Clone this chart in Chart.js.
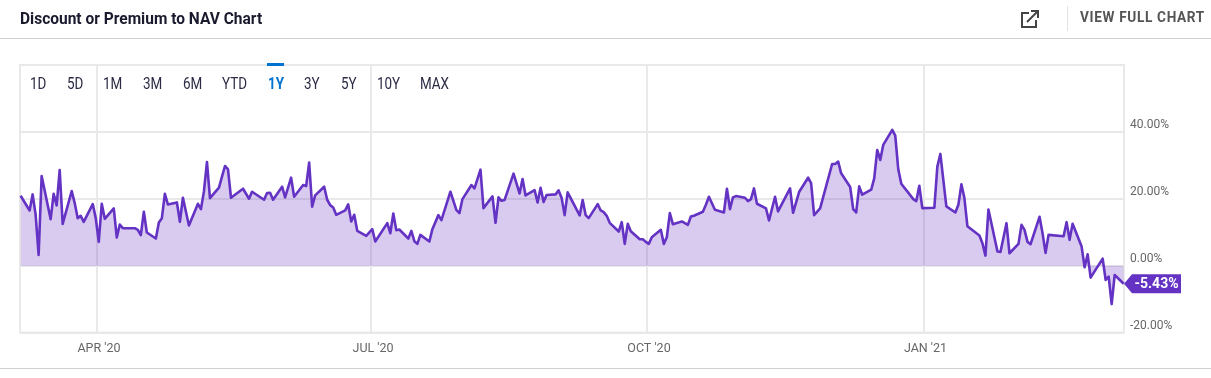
<!DOCTYPE html>
<html>
<head>
<meta charset="utf-8">
<script src="https://cdn.jsdelivr.net/npm/chart.js@4"></script>
<style>
    html, body { margin: 0; background: #fff; overflow: hidden; }
    #wrap { position: relative; width: 1211px; height: 378px; font-family: Roboto, sans-serif; }
    #wrap canvas { position: absolute; left: 0; top: 0; }
    .txt { position: absolute; white-space: nowrap; transform-origin: left center; }
    .rng { top: 75px; font-size: 16px; line-height: 18px; color: #2b2b45; transform: scaleX(.84); }
</style>
</head>
<body>
<div id="wrap">
    <canvas id="navChart" width="1211" height="378"></canvas>
    <div class="txt" style="left:20px;top:9px;font-size:16.5px;line-height:20px;font-weight:700;color:#1a1a2e;transform:scaleX(.94)">Discount or Premium to NAV Chart</div>
    <svg style="position:absolute;left:1020px;top:9px" width="20" height="20" viewBox="0 0 20 20" fill="none" stroke="#444" stroke-width="2">
        <path d="M9 4H2v14h14v-7"/><path d="M7 13L17 3"/><path d="M11 2h7v7"/>
    </svg>
    <div style="position:absolute;left:1067px;top:6px;width:1px;height:25px;background:#e2e2e2"></div>
    <div class="txt" style="left:1080px;top:9px;font-size:14.5px;line-height:18px;font-weight:700;color:#555;letter-spacing:.7px;transform:scaleX(.94)">VIEW FULL CHART</div>
    <div style="position:absolute;left:0;top:38px;width:1211px;height:1px;background:#cfcfcf"></div>
    <div style="position:absolute;left:0;top:368px;width:1211px;height:1px;background:#cfcfcf"></div>
    <div style="position:absolute;left:267px;top:63px;width:17px;height:3px;background:#0073d1"></div>
    <div id="ranges"></div>
</div>
<script>
// range buttons above the plot
const rangeLabels = ['1D', '5D', '1M', '3M', '6M', 'YTD', '1Y', '3Y', '5Y', '10Y', 'MAX'];
const rangeLefts = [30, 67, 103, 143, 183, 222, 268, 304, 341, 377, 420];
const activeRange = '1Y';

// calendar days since 6 Mar 2020
const days = [
    0, 3, 4, 5, 6, 7, 10, 11, 12, 13, 14, 17, 18, 19, 20, 21, 24, 25, 26, 27, 28,
    31, 32, 33, 34, 38, 39, 40, 41, 42, 45, 46, 47, 48, 49, 52, 53, 54, 56, 59, 60, 61, 62, 63,
    66, 67, 68, 69, 70, 74, 76, 77, 81, 82, 83, 84, 87, 88, 90, 91, 94, 95, 96, 97, 98,
    101, 102, 103, 104, 105, 108, 109, 110, 111, 112, 115, 117, 118, 122, 123, 124, 125, 126,
    129, 130, 131, 132, 133, 136, 137, 139, 140, 143, 145, 146, 147, 150, 151, 153, 154,
    157, 158, 159, 160, 161, 164, 166, 167, 168, 171, 172, 173, 174, 175, 178, 179, 180, 181, 182,
    186, 187, 188, 189, 192, 193, 194, 195, 196, 199, 200, 201, 202, 203, 206, 207, 208, 209, 210,
    213, 214, 215, 216, 217, 220, 222, 223, 224, 227, 228, 229, 231, 234, 235, 236, 237, 238,
    241, 242, 243, 244, 245, 248, 249, 251, 252, 256, 257, 259, 262, 263, 264, 266, 270, 271, 272, 273,
    276, 277, 278, 279, 280, 283, 284, 285, 286, 287, 290, 291, 292, 293, 297, 298, 299, 300,
    304, 305, 306, 308, 311, 312, 313, 314, 315, 319, 320, 321, 322, 325, 326, 328, 329,
    332, 333, 334, 335, 336, 339, 340, 341, 342, 347, 348, 349, 350, 353, 354, 355, 356,
    360, 361, 362, 363, 364, 367
];
const premium = [
    20.9, 16.5, 21.3, 15.2, 3.2, 26.8, 13.9, 21.5, 18.0, 28.6, 12.5, 22.3, 18.7, 14.2, 14.9, 13.1, 18.4, 14.2, 7.1, 18.5, 14.0,
    17.1, 8.4, 12.3, 11.2, 11.2, 10.7, 9.1, 16.1, 9.9, 8.1, 12.9, 14.2, 21.5, 18.3, 18.9, 13.1, 20.3, 12.0, 18.5, 16.9, 22.2, 31.0, 20.2,
    23.3, 26.6, 29.8, 28.8, 20.3, 23.0, 20.0, 22.1, 19.7, 21.7, 21.8, 19.7, 23.6, 20.4, 26.3, 20.6, 24.1, 23.8, 30.8, 17.6, 21.0,
    23.6, 19.7, 18.1, 17.4, 15.2, 16.5, 18.3, 13.2, 15.2, 10.4, 8.9, 10.9, 7.2, 12.7, 9.7, 15.6, 10.6, 10.8,
    8.1, 10.4, 7.3, 6.5, 9.2, 7.2, 10.9, 15.1, 13.6, 22.1, 16.6, 15.7, 19.9, 24.1, 23.1, 28.7, 17.2,
    20.7, 12.8, 20.4, 19.4, 19.6, 27.5, 21.6, 25.9, 21.0, 22.6, 18.9, 23.3, 19.0, 21.1, 21.3, 22.5, 20.2, 15.1, 21.9,
    15.0, 19.6, 15.1, 14.2, 18.4, 16.5, 16.0, 14.9, 12.8, 10.2, 13.0, 6.5, 12.5, 10.3, 7.9, 7.9, 7.1, 6.5, 8.5,
    10.7, 6.5, 8.5, 15.7, 12.4, 13.2, 12.2, 14.7, 14.9, 16.1, 18.2, 20.6, 16.7, 15.9, 23.0, 16.9, 20.4, 20.8,
    20.3, 19.3, 19.9, 23.1, 18.5, 17.1, 13.5, 20.6, 16.2, 23.1, 15.8, 22.0, 26.3, 24.7, 15.1, 17.1, 30.4, 30.4, 31.1, 27.6,
    23.5, 16.9, 15.9, 23.7, 21.2, 22.7, 26.1, 34.6, 31.6, 36.1, 40.6, 38.9, 28.8, 24.5, 19.9, 19.3, 23.9, 17.2,
    17.3, 29.6, 33.4, 17.7, 15.9, 18.2, 24.3, 20.2, 11.8, 9.0, 6.7, 3.0, 16.8, 4.2, 4.1, 12.7, 3.7,
    6.5, 12.2, 10.7, 7.1, 6.4, 14.6, 9.7, 3.8, 9.2, 8.8, 13.0, 7.7, 12.5, 5.7, -0.5, 3.4, -3.6,
    2.1, -4.3, -3.3, -11.5, -2.8, -5.43
];
const xTickDays = [25.4, 116.6, 208.4, 300.4];
const xTickLabels = ["APR '20", "JUL '20", "OCT '20", "JAN '21"];
const yTickValues = [-20, 0, 20, 40];

const purple = '#6433c4';
const gridColor = '#e9e9e9';

const ranges = document.getElementById('ranges');
rangeLabels.forEach((label, i) => {
    const el = document.createElement('div');
    el.className = 'txt rng';
    el.textContent = label;
    el.style.left = rangeLefts[i] + 'px';
    if (label === activeRange) {
        el.style.color = '#0073d1';
        el.style.fontWeight = '700';
    }
    ranges.appendChild(el);
});

// frame round the plot, the two outer verticals are not ticks
const framePlugin = {
    id: 'frame',
    beforeDatasetsDraw(chart) {
        const a = chart.chartArea;
        const ctx = chart.ctx;
        ctx.save();
        ctx.strokeStyle = gridColor;
        ctx.lineWidth = 2;
        ctx.strokeRect(a.left, a.top, a.right - a.left, a.bottom - a.top);
        ctx.restore();
    }
};

// flag with the latest value
const flagPlugin = {
    id: 'flag',
    afterDraw(chart) {
        const last = premium[premium.length - 1];
        const y = chart.scales.y.getPixelForValue(last);
        const x = chart.chartArea.right;
        const ctx = chart.ctx;
        ctx.save();
        ctx.fillStyle = purple;
        ctx.beginPath();
        ctx.moveTo(x, y);
        ctx.lineTo(x + 8, y - 9.5);
        ctx.lineTo(x + 57, y - 9.5);
        ctx.lineTo(x + 57, y + 9.5);
        ctx.lineTo(x + 8, y + 9.5);
        ctx.closePath();
        ctx.fill();
        ctx.fillStyle = '#fff';
        ctx.font = '700 14px Roboto';
        ctx.textAlign = 'center';
        ctx.textBaseline = 'middle';
        ctx.fillText(last.toFixed(2) + '%', x + 32.5, y + 1);
        ctx.restore();
    }
};

const ctx = document.getElementById('navChart').getContext('2d');
new Chart(ctx, {
    type: 'line',
    data: {
        labels: days,
        datasets: [{
            label: 'Discount or Premium to NAV',
            data: days.map((d, i) => ({ x: d, y: premium[i] })),
            borderColor: purple,
            borderWidth: 2.6,
            borderJoinStyle: 'round',
            backgroundColor: 'rgba(108, 54, 196, 0.26)',
            fill: { value: 0 },
            tension: 0,
            pointRadius: 0,
            clip: false
        }]
    },
    plugins: [framePlugin, flagPlugin],
    options: {
        responsive: false,
        animation: false,
        parsing: false,
        layout: { padding: { left: 20, top: 65, right: 0, bottom: 0 } },
        plugins: { legend: { display: false }, tooltip: { enabled: false } },
        scales: {
            x: {
                type: 'linear',
                min: -0.2,
                max: 367.1,
                afterBuildTicks(scale) {
                    scale.ticks = xTickDays.map(v => ({ value: v }));
                },
                afterFit(scale) { scale.height = 45.5; },
                grid: { color: gridColor, lineWidth: 2, drawTicks: false },
                border: { display: false },
                ticks: {
                    padding: 9,
                    labelOffset: 2,
                    maxRotation: 0,
                    autoSkip: false,
                    color: '#666',
                    font: { family: 'Roboto', size: 12.5 },
                    callback: (v) => xTickLabels[xTickDays.indexOf(v)]
                }
            },
            y: {
                position: 'right',
                min: -20,
                max: 60,
                afterFit(scale) { scale.width = 87; },
                grid: { color: gridColor, lineWidth: 2, drawTicks: false },
                border: { display: false },
                ticks: {
                    stepSize: 20,
                    padding: 6,
                    labelOffset: -7,
                    color: '#666',
                    font: { family: 'Roboto', size: 12 },
                    callback: (v) => yTickValues.includes(v) ? v.toFixed(2) + '%' : ''
                }
            }
        }
    }
});
</script>
</body>
</html>
